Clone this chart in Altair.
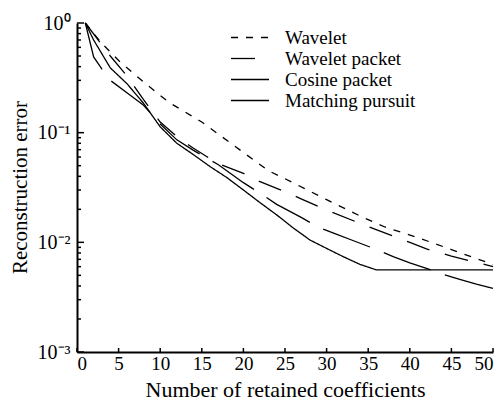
import altair as alt
import pandas as pd

series_names = ["Wavelet", "Wavelet packet", "Cosine packet", "Matching pursuit"]

wavelet_x = [1, 2, 3, 5, 8, 11, 15, 20, 23, 25, 30, 34, 37, 41, 45, 48, 50]
wavelet_y = [1.0, 0.80, 0.65, 0.455, 0.29, 0.19, 0.125, 0.066, 0.045, 0.038, 0.0245,
             0.0174, 0.0138, 0.011, 0.0086, 0.0071, 0.0063]

wpacket_x = [1, 3, 4, 6, 8, 10, 12, 14, 17, 20, 22, 25, 27, 30, 35, 38, 40, 42, 45, 50]
wpacket_y = [1.0, 0.63, 0.50, 0.33, 0.20, 0.125, 0.092, 0.072, 0.052, 0.0425, 0.0357,
             0.029, 0.0248, 0.0197, 0.0139, 0.0114, 0.0100, 0.0087, 0.0075, 0.0060]

cosine_x = [1, 2, 3, 4, 6, 8, 10, 12, 14, 17, 20, 22, 24, 27, 29, 31, 33, 36, 38, 40,
            42, 44, 46, 48, 50]
cosine_y = [1.0, 0.49, 0.38, 0.30, 0.231, 0.178, 0.12, 0.086, 0.069, 0.051, 0.035,
            0.028, 0.0222, 0.0168, 0.0137, 0.012, 0.0105, 0.0086, 0.0074, 0.0065,
            0.0058, 0.0051, 0.0046, 0.00415, 0.0038]

mp_x = [1, 2, 4, 6, 8, 10, 12, 14, 16, 18, 20, 22, 24, 26, 28, 30, 32, 34, 36, 40, 45, 50]
mp_y = [1.0, 0.70, 0.39, 0.28, 0.185, 0.113, 0.08, 0.063, 0.049, 0.039, 0.030, 0.023,
        0.0178, 0.0135, 0.0105, 0.0088, 0.0074, 0.0063, 0.0056, 0.0056, 0.0056, 0.0056]

x_ticks = [0, 5, 10, 15, 20, 25, 30, 35, 40, 45, 50]
y_major = [1, 0.1, 0.01, 0.001]
y_minor = [m * 10.0 ** e for e in (-1, -2, -3) for m in range(2, 10)]

rows = []
for name, xs, ys in zip(series_names,
                        [wavelet_x, wpacket_x, cosine_x, mp_x],
                        [wavelet_y, wpacket_y, cosine_y, mp_y]):
    for xv, yv in zip(xs, ys):
        rows.append({"series": name, "k": xv, "err": yv})
df = pd.DataFrame(rows)

FONT = "Times New Roman, Liberation Serif, Times, serif"
W, H = 416, 329

xscale = alt.Scale(domain=[0, 50], nice=False)
yscale = alt.Scale(type="log", domain=[0.001, 1], nice=False)

label_expr = ("abs(datum.value-1)<1e-9 ? '10\u2070' : "
              "(abs(datum.value-0.1)<1e-9 ? '10\u207b\u00b9' : "
              "(abs(datum.value-0.01)<1e-10 ? '10\u207b\u00b2' : "
              "(abs(datum.value-0.001)<1e-11 ? '10\u207b\u00b3' : '')))")

x_axis = alt.Axis(values=x_ticks, title="Number of retained coefficients",
                  grid=False, ticks=False, domainColor="black", domainWidth=2,
                  labelPadding=2, labelFont=FONT, labelFontSize=19,
                  labelColor="black", titleFont=FONT, titleFontSize=22,
                  titleFontWeight="normal", titleColor="black",
                  titleBaseline="alphabetic", titleY=44, titleX=208)
y_axis = alt.Axis(values=y_major, title="Reconstruction error",
                  grid=False, ticks=False, domainColor="black", domainWidth=2,
                  labelExpr=label_expr, labelPadding=7, labelFont=FONT,
                  labelFontSize=20, labelColor="black", labelBaseline="middle",
                  titleFont=FONT, titleFontSize=21, titleFontWeight="normal",
                  titleColor="black", titleAngle=-90, titleBaseline="alphabetic",
                  titleX=-51, titleY=164, titleAlign="center")

lines = alt.Chart(df).mark_line(strokeWidth=1.3).encode(
    x=alt.X("k:Q", scale=xscale, axis=x_axis),
    y=alt.Y("err:Q", scale=yscale, axis=y_axis),
    color=alt.Color("series:N",
                    scale=alt.Scale(domain=series_names,
                                    range=["black", "black", "black", "black"]),
                    legend=alt.Legend(title=None, orient="none", legendX=162.5, legendY=4,
                                      symbolType="M-2,0L2,0", symbolSize=361,
                                      symbolStrokeWidth=1.3, labelFont=FONT,
                                      labelFontSize=19, labelColor="black",
                                      labelOffset=24.5, rowPadding=0, padding=0)),
    strokeDash=alt.StrokeDash("series:N",
                              scale=alt.Scale(domain=series_names,
                                              range=[[7, 8], [24, 16], [50, 15], [1, 0]]),
                              legend=alt.Legend(title=None)),
    detail="series:N",
)

ymaj_df = pd.DataFrame({"err": y_major})
ymin_df = pd.DataFrame({"err": y_minor})
x_df = pd.DataFrame({"k": x_ticks})

ymaj_ticks = alt.Chart(ymaj_df).mark_rule(color="black", strokeWidth=1.5).encode(
    y=alt.Y("err:Q", scale=yscale, axis=y_axis), x=alt.value(0), x2=alt.value(7))
ymin_ticks = alt.Chart(ymin_df).mark_rule(color="black", strokeWidth=1.5).encode(
    y=alt.Y("err:Q", scale=yscale, axis=y_axis), x=alt.value(0), x2=alt.value(4))
x_tick_marks = alt.Chart(x_df).mark_rule(color="black", strokeWidth=1.5).encode(
    x=alt.X("k:Q", scale=xscale, axis=x_axis), y=alt.value(H), y2=alt.value(H - 4))

chart = alt.layer(lines, ymaj_ticks, ymin_ticks, x_tick_marks).properties(
    width=W, height=H,
    autosize=alt.AutoSizeParams(type="none"),
    padding={"left": 77, "top": 23, "right": 9, "bottom": 50},
    background="white",
).configure_view(stroke=None)

chart.save("out.html", embed_options={"renderer": "svg", "actions": False})
